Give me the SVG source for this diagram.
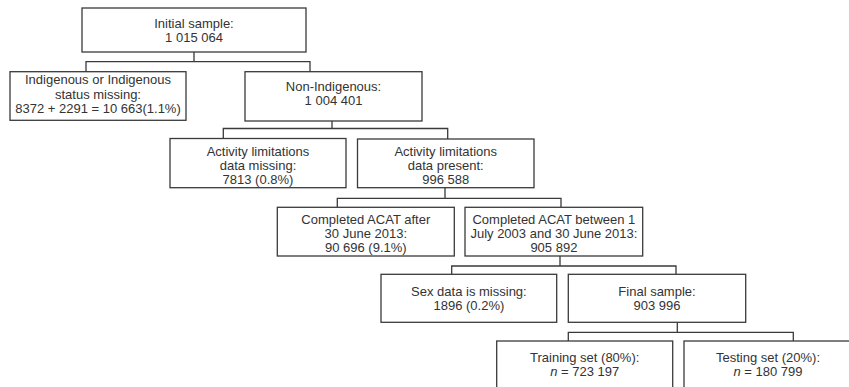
<svg xmlns="http://www.w3.org/2000/svg" width="849" height="387" viewBox="0 0 849 387">
  <style>
    .box { fill: #ffffff; stroke: #3a3a3a; stroke-width: 1.3; }
    .conn { fill: none; stroke: #3a3a3a; stroke-width: 1.3; }
    text { font-family: "Liberation Sans", Arial, sans-serif; font-size: 13px; fill: #333333; text-anchor: middle; }
    .it { font-style: italic; }
  </style>
  <rect width="849" height="387" fill="#ffffff"/>
  <g id="connectors">
    <path class="conn" d="M194 52 V61.7 M86 71.7 V61.7 H310 V71.7"/>
    <path class="conn" d="M332 121 V128.5 M223.3 138.5 V128.5 H447.7 V139"/>
    <path class="conn" d="M445 187.7 V198.3 M337.3 207.3 V198.3 H561 V207.3"/>
    <path class="conn" d="M560 256 V266 M451.7 274.3 V266 H676 V274.3"/>
    <path class="conn" d="M677.3 322.3 V332.3 M568.3 341 V332.3 H793.3 V341"/>
  </g>
  <g id="initial">
    <rect class="box" x="82" y="8" width="224" height="44"/>
    <text x="194" y="28">Initial sample:</text>
    <text x="194" y="42">1 015 064</text>
  </g>
  <g id="indigenous">
    <rect class="box" x="10" y="71.7" width="176" height="48.6"/>
    <text x="98" y="84">Indigenous or Indigenous</text>
    <text x="98" y="98.5">status missing:</text>
    <text x="98" y="113">8372 + 2291 = 10 663(1.1%)</text>
  </g>
  <g id="non-indigenous">
    <rect class="box" x="245" y="71.7" width="177" height="49.3"/>
    <text x="333.5" y="91">Non-Indigenous:</text>
    <text x="333.5" y="105">1 004 401</text>
  </g>
  <g id="activity-missing">
    <rect class="box" x="170" y="138.5" width="176" height="49.2"/>
    <text x="258" y="155.5">Activity limitations</text>
    <text x="258" y="169.7">data missing:</text>
    <text x="258" y="183.8">7813 (0.8%)</text>
  </g>
  <g id="activity-present">
    <rect class="box" x="357.5" y="139" width="176.5" height="48.7"/>
    <text x="445.75" y="155.5">Activity limitations</text>
    <text x="445.75" y="169.7">data present:</text>
    <text x="445.75" y="183.8">996 588</text>
  </g>
  <g id="acat-after">
    <rect class="box" x="277.3" y="207.3" width="177" height="48.7"/>
    <text x="365.8" y="223.5">Completed ACAT after</text>
    <text x="365.8" y="237.8">30 June 2013:</text>
    <text x="365.8" y="252">90 696 (9.1%)</text>
  </g>
  <g id="acat-between">
    <rect class="box" x="465" y="207.3" width="177.7" height="48.7"/>
    <text x="553.9" y="223.5">Completed ACAT between 1</text>
    <text x="553.9" y="237.8">July 2003 and 30 June 2013:</text>
    <text x="553.9" y="252">905 892</text>
  </g>
  <g id="sex-missing">
    <rect class="box" x="381" y="274.3" width="175.7" height="48"/>
    <text x="468.9" y="296">Sex data is missing:</text>
    <text x="468.9" y="310">1896 (0.2%)</text>
  </g>
  <g id="final">
    <rect class="box" x="568.3" y="274.3" width="177.4" height="48"/>
    <text x="657" y="296">Final sample:</text>
    <text x="657" y="310">903 996</text>
  </g>
  <g id="training">
    <rect class="box" x="496.7" y="341" width="176" height="60"/>
    <text x="584.7" y="361.7">Training set (80%):</text>
    <text x="584.7" y="375.5"><tspan class="it">n</tspan> = 723 197</text>
  </g>
  <g id="testing">
    <rect class="box" x="684" y="341" width="168" height="60"/>
    <text x="768" y="361.7">Testing set (20%):</text>
    <text x="768" y="375.5"><tspan class="it">n</tspan> = 180 799</text>
  </g>
</svg>
